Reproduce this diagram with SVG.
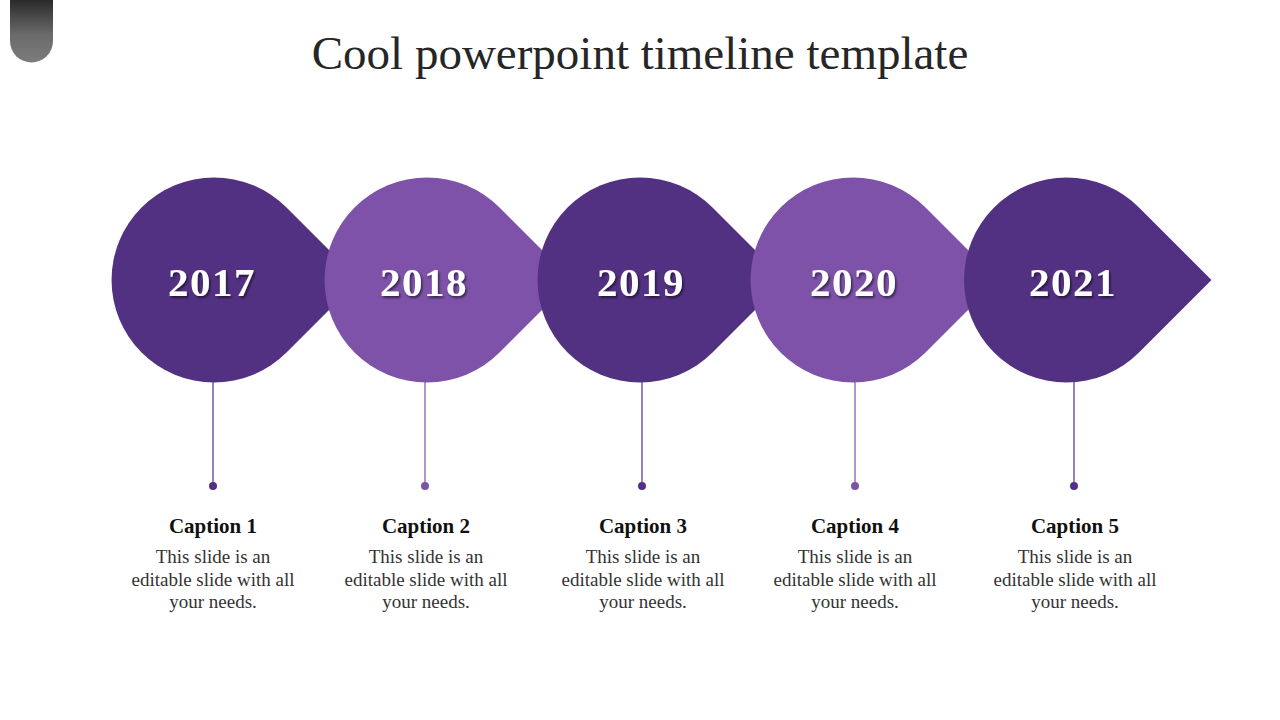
<svg xmlns="http://www.w3.org/2000/svg" width="1280" height="720" viewBox="0 0 1280 720">
<defs>
<linearGradient id="tabGrad" x1="0" y1="0" x2="0" y2="1">
<stop offset="0" stop-color="#2a2a2a"/>
<stop offset="0.55" stop-color="#6a6a6a"/>
<stop offset="1" stop-color="#7c7c7c"/>
</linearGradient>
<filter id="shadow" x="-20%" y="-20%" width="140%" height="160%">
<feDropShadow dx="1.5" dy="2" stdDeviation="1.2" flood-color="#000" flood-opacity="0.55"/>
</filter>
</defs>
<style>
.dark{fill:#533182}
.light{fill:#7d52a8}
.ldark{stroke:#533182;stroke-width:1.2}
.llight{stroke:#7d52a8;stroke-width:1.2}
.year{font-family:"Liberation Serif","DejaVu Serif",serif;font-weight:bold;font-size:41px;letter-spacing:1.5px;fill:#ffffff;text-anchor:middle;filter:url(#shadow)}
.title{font-family:"Liberation Serif","DejaVu Serif",serif;font-size:47px;fill:#262626;text-anchor:middle}
.cap{font-family:"Liberation Serif","DejaVu Serif",serif;font-weight:bold;font-size:21px;fill:#111111;text-anchor:middle}
.body{font-family:"Liberation Serif","DejaVu Serif",serif;font-size:19px;fill:#333333;text-anchor:middle}
</style>
<rect width="1280" height="720" fill="#ffffff"/>
<path d="M10,0 H53 V41 A21.5,21.5 0 0 1 10,41 Z" fill="url(#tabGrad)"/>
<text class="title" x="640" y="69">Cool powerpoint timeline template</text>

<g id="connectors">
<line class="ldark" x1="213" y1="382" x2="213" y2="486"/>
<line class="llight" x1="425" y1="382" x2="425" y2="486"/>
<line class="ldark" x1="642" y1="382" x2="642" y2="486"/>
<line class="llight" x1="855" y1="382" x2="855" y2="486"/>
<line class="ldark" x1="1074" y1="382" x2="1074" y2="486"/>
<circle class="dark" cx="213" cy="486" r="4"/>
<circle class="light" cx="425" cy="486" r="4"/>
<circle class="dark" cx="642" cy="486" r="4"/>
<circle class="light" cx="855" cy="486" r="4"/>
<circle class="dark" cx="1074" cy="486" r="4"/>
</g>

<g id="node-2017">
<path class="dark" d="M286.5,207.5 A102.5,102.5 0 1 0 286.5,352.5 L359,280 Z"/>
<text class="year" x="212" y="296">2017</text>
</g>
<g id="node-2018">
<path class="light" d="M499.5,207.5 A102.5,102.5 0 1 0 499.5,352.5 L572,280 Z"/>
<text class="year" x="424" y="296">2018</text>
</g>
<g id="node-2019">
<path class="dark" d="M712.5,207.5 A102.5,102.5 0 1 0 712.5,352.5 L785,280 Z"/>
<text class="year" x="641" y="296">2019</text>
</g>
<g id="node-2020">
<path class="light" d="M925.5,207.5 A102.5,102.5 0 1 0 925.5,352.5 L998,280 Z"/>
<text class="year" x="854" y="296">2020</text>
</g>
<g id="node-2021">
<path class="dark" d="M1139,207.5 A102.5,102.5 0 1 0 1139,352.5 L1211.5,280 Z"/>
<text class="year" x="1073" y="296">2021</text>
</g>

<g id="caption-1">
<text class="cap" x="213" y="533">Caption 1</text>
<text class="body" x="213" y="563">This slide is an</text>
<text class="body" x="213" y="586">editable slide with all</text>
<text class="body" x="213" y="608">your needs.</text>
</g>
<g id="caption-2">
<text class="cap" x="426" y="533">Caption 2</text>
<text class="body" x="426" y="563">This slide is an</text>
<text class="body" x="426" y="586">editable slide with all</text>
<text class="body" x="426" y="608">your needs.</text>
</g>
<g id="caption-3">
<text class="cap" x="643" y="533">Caption 3</text>
<text class="body" x="643" y="563">This slide is an</text>
<text class="body" x="643" y="586">editable slide with all</text>
<text class="body" x="643" y="608">your needs.</text>
</g>
<g id="caption-4">
<text class="cap" x="855" y="533">Caption 4</text>
<text class="body" x="855" y="563">This slide is an</text>
<text class="body" x="855" y="586">editable slide with all</text>
<text class="body" x="855" y="608">your needs.</text>
</g>
<g id="caption-5">
<text class="cap" x="1075" y="533">Caption 5</text>
<text class="body" x="1075" y="563">This slide is an</text>
<text class="body" x="1075" y="586">editable slide with all</text>
<text class="body" x="1075" y="608">your needs.</text>
</g>
</svg>
